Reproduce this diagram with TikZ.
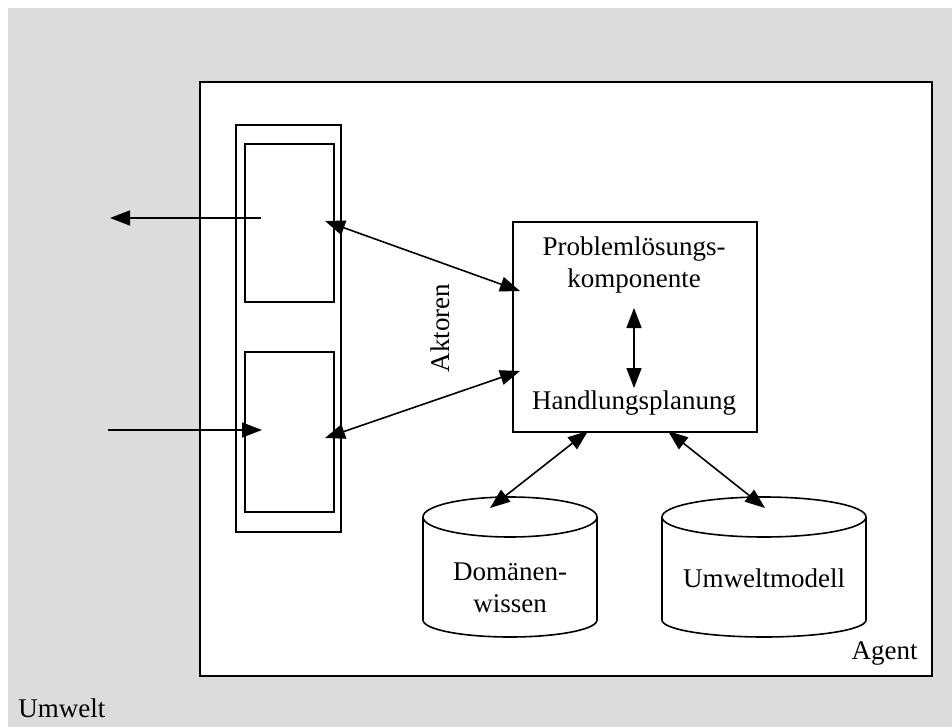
\documentclass[tikz,border=0pt]{standalone}
\usepackage{fontspec}
\setmainfont{Liberation Serif}
\usetikzlibrary{arrows.meta}
\definecolor{envgrey}{HTML}{DCDCDC}
\begin{document}
\begin{tikzpicture}[x=0.5pt,y=-0.5pt,
  frame/.style={draw=black,line width=1pt},
  thin frame/.style={draw=black,line width=0.85pt},
  link/.style={line width=0.8pt,-{Triangle[length=10pt,width=7.5pt]}},
  dlink/.style={line width=0.8pt,{Triangle[length=10pt,width=7.5pt]}-{Triangle[length=10pt,width=7.5pt]}},
  lbl/.style={font=\fontsize{13.5pt}{16pt}\selectfont,inner sep=0pt,align=center}]
  \useasboundingbox (0,0) rectangle (952,727);
  \fill[white] (0,0) rectangle (952,727);
  \fill[envgrey] (8,8) rectangle (952,727);

  % agent
  \draw[frame,fill=white] (200,82) rectangle (932,676);
  \node[lbl,anchor=south east] (agent) at (918,666) {Agent};
  \node[lbl,anchor=south west] (umwelt) at (18,718) {Umwelt};

  % actor column with its two units
  \draw[thin frame] (236,125) rectangle (341,532);
  \draw[thin frame] (245,144) rectangle (334,302);
  \draw[thin frame] (245,352) rectangle (334,512);
  \node[lbl,rotate=90] (aktoren) at (440,328) {Aktoren};

  \coordinate (outS) at (261,218);
  \coordinate (outE) at (110,218);
  \coordinate (inS) at (108,430);
  \coordinate (inE) at (262,430);
  \draw[link] (outS) -- (outE);
  \draw[link] (inS) -- (inE);

  % problem solving component
  \draw[frame] (513,222) rectangle (757,432);
  \node[lbl] (pl) at (634,265) {Problemlösungs-\\komponente};
  \node[lbl] (hp) at (634,403) {Handlungsplanung};
  \coordinate (vTop) at (634,308);
  \coordinate (vBot) at (634,388);
  \draw[dlink] (vTop) -- (vBot);

  \coordinate (a1) at (325,221);
  \coordinate (b1) at (520,291);
  \coordinate (a2) at (325,438);
  \coordinate (b2) at (520,371);
  \draw[dlink] (a1) -- (b1);
  \draw[dlink] (a2) -- (b2);

  % stores
  \foreach \cx/\rx in {510/87, 764/102}{
    \draw[line width=0.8pt,fill=white]
      (\cx-\rx,517) -- (\cx-\rx,620) arc[start angle=180,end angle=360,x radius=\rx,y radius=-17]
      -- (\cx+\rx,517);
    \draw[line width=0.8pt] (\cx,517) ellipse[x radius=\rx,y radius=20];
  }
  \node[lbl] (dw) at (510,588) {Domänen-\\wissen};
  \node[lbl] (um) at (764,578) {Umweltmodell};

  \coordinate (c1) at (588,431);
  \coordinate (d1) at (490,508);
  \coordinate (c2) at (668,431);
  \coordinate (d2) at (765,508);
  \draw[dlink] (c1) -- (d1);
  \draw[dlink] (c2) -- (d2);
\end{tikzpicture}
\end{document}
